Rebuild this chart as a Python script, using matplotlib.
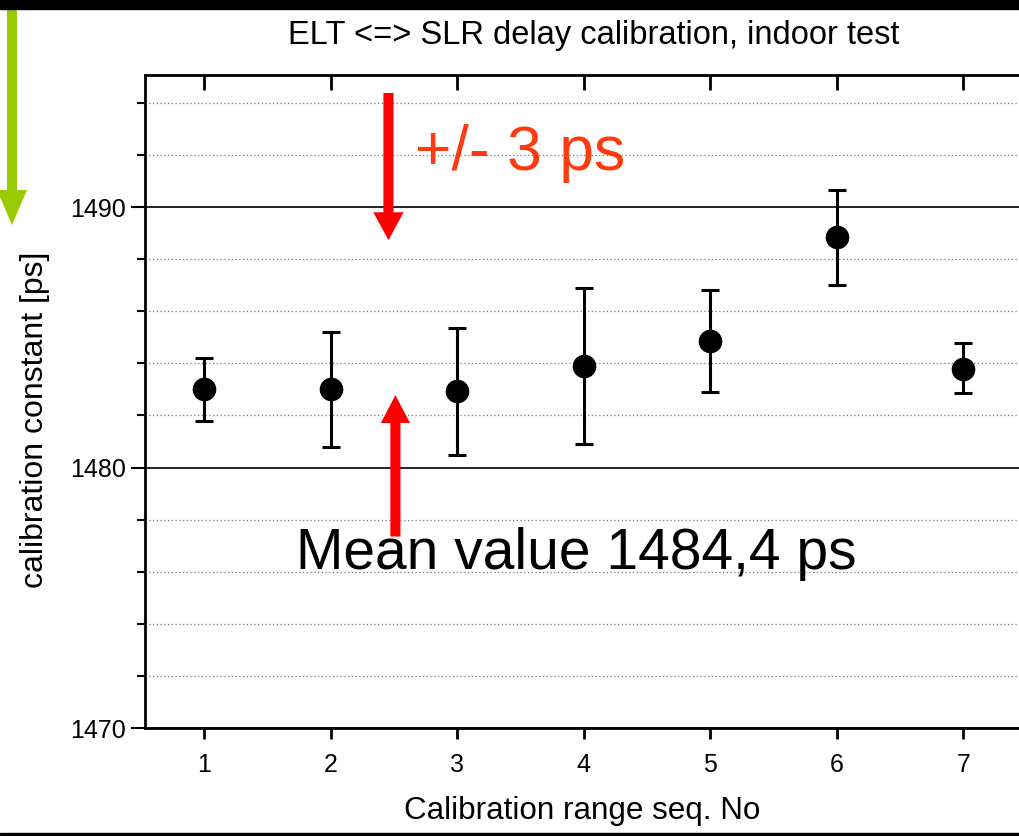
import numpy as np
import matplotlib
matplotlib.use("Agg")
import matplotlib.pyplot as plt
from matplotlib.patches import FancyArrow, Rectangle
from matplotlib.ticker import MultipleLocator

plt.rcParams['font.family'] = ['Liberation Sans', 'DejaVu Sans']

seq_no = [1, 2, 3, 4, 5, 6, 7]
calib = [1483.0, 1483.0, 1482.95, 1483.9, 1484.85, 1488.85, 1483.8]
err_lo = [1.2, 2.2, 2.45, 3.0, 1.95, 1.85, 0.95]
err_hi = [1.2, 2.2, 2.4, 3.0, 1.95, 1.8, 1.0]
y_major = [1470, 1480, 1490]

W, H = 1019, 836
fig = plt.figure(figsize=(W / 100, H / 100), dpi=100)
fig.patch.set_facecolor("white")

# plot area runs off the right edge of the scan
ax = fig.add_axes([145 / W, 1 - 728 / H, 881.5 / W, (728 - 75) / H])
ax.errorbar(seq_no, calib, yerr=[err_lo, err_hi], fmt="o", color="black",
            ms=16, elinewidth=2.2, capsize=6.5, capthick=2.2, zorder=5)

ax.set_xlim(0.53, 7.5)
ax.set_ylim(1470, 1495.07)
ax.set_xticks(seq_no)
ax.set_yticks(y_major)
ax.yaxis.set_minor_locator(MultipleLocator(2))
ax.grid(axis="y", which="major", color="black", lw=1.2, ls="-")
ax.grid(axis="y", which="minor", color="#777777", lw=0.9, ls=(0, (1, 2)))
ax.set_axisbelow(True)

for s in ax.spines.values():
    s.set_linewidth(2)
ax.tick_params(axis="x", which="major", direction="out", length=8, width=2,
               labelsize=18, pad=10, top=True)
ax.tick_params(axis="y", which="major", direction="out", length=10, width=1.5,
               labelsize=18, pad=4)
ax.tick_params(axis="y", which="minor", direction="out", length=6, width=1.5)
# top ticks point inward
for t in ax.xaxis.get_major_ticks():
    t.tick2line.set_marker(3)
    t.tick2line.set_markersize(11)

ax.set_title("ELT <=> SLR delay calibration, indoor test", fontsize=23.5, pad=22,
             x=(594 - 145) / 881.5)
ax.set_ylabel("calibration constant [ps]", fontsize=23)
ax.yaxis.set_label_coords((50 - 145) / 881.5, (728 - 420) / 653)
ax.set_xlabel("Calibration range seq. No", fontsize=22.6)
ax.xaxis.set_label_coords((582 - 145) / 881.5, -0.104)

# red arrows pointing to the spread
ax.add_patch(FancyArrow(2.455, 1494.38, 0, -5.65, width=0.08, head_width=0.24,
                        head_length=1.07, length_includes_head=True,
                        color="#ff0000", lw=0, zorder=6))
ax.add_patch(FancyArrow(2.51, 1477.35, 0, 5.43, width=0.08, head_width=0.23,
                        head_length=1.07, length_includes_head=True,
                        color="#ff0000", lw=0, zorder=6))
ax.text(2.668, 1491.42, "+/- 3 ps", color="#ff3a10", fontsize=45,
        va="baseline", ha="left", zorder=7)
ax.text(1.72, 1476.12, "Mean value 1484,4 ps", color="black", fontsize=41,
        va="baseline", ha="left", zorder=7)

# slide decorations: black bars and green arrow
fig.patches.append(Rectangle((0, 1 - 9 / H), 1, 9 / H, transform=fig.transFigure,
                             color="black", zorder=10))
fig.patches.append(Rectangle((0, 0), 1, 3 / H, transform=fig.transFigure,
                             color="black", zorder=10))
over = fig.add_axes([0, 0, 1, 1], facecolor="none")
over.set_xlim(0, W)
over.set_ylim(H, 0)
over.axis("off")
over.add_patch(FancyArrow(12, 9, 0, 216, width=10, head_width=30, head_length=35,
                          length_includes_head=True, color="#99cc00", lw=0))

fig.savefig("out.png", dpi=100)
